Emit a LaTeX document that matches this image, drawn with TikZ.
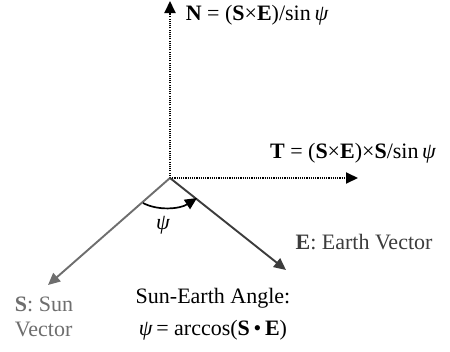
\documentclass[tikz,border=0pt]{standalone}
\usepackage{fontspec}
\setmainfont{Liberation Serif}
\usetikzlibrary{arrows.meta}
\definecolor{sgray}{HTML}{6E6E6E}
\definecolor{egray}{HTML}{3C3C3C}
\begin{document}
\begin{tikzpicture}[x=1pt,y=-1pt,
  lbl/.style={inner sep=0pt, font=\fontsize{22}{26}\selectfont},
  arrtip/.style={-{Triangle[length=12pt,width=11pt]}},
  dotline/.style={arrtip, line width=1.9pt, dash pattern=on 1.1pt off 1.1pt},
  vec/.style={arrtip, line width=1.9pt}]
\useasboundingbox[fill=white] (0,0) rectangle (450,351);
% coordinates
\coordinate (O) at (170,178);
\coordinate (Ntip) at (170,1);
\coordinate (Ttip) at (358,178);
\coordinate (Stip) at (48,285);
\coordinate (Etip) at (286,270);
\coordinate (a1) at (143,203);
\coordinate (a2) at (197,198);
% labels
\node[lbl] (nlbl) at (257,15) {\textbf{N} = (\textbf{S}×\textbf{E})/sin\,{\itshape ψ}};
\node[lbl] (tlbl) at (353,153) {\textbf{T} = (\textbf{S}×\textbf{E})×\textbf{S}/sin\,{\itshape ψ}};
\node[lbl] (psi) at (163,225) {\itshape ψ};
\node[lbl, text=egray] (elbl) at (364,242) {\textbf{E}: Earth Vector};
\node[lbl, align=left, text=sgray, font=\fontsize{22}{25}\selectfont] (slbl) at (44,317) {\textbf{S}: Sun\\Vector};
\node[lbl, align=center, font=\fontsize{22}{32}\selectfont] (ang) at (213,314) {Sun-Earth Angle:\\{\itshape ψ}\,= arccos(\textbf{S}\,•\,\textbf{E})};
% axes
\draw[dotline] (O) -- (Ntip);
\draw[dotline] (O) -- (Ttip);
% vectors
\draw[vec, draw=sgray, fill=sgray] (O) -- (Stip);
\draw[vec, draw=egray, fill=egray] (O) -- (Etip);
% angle arc
\draw[arrtip, line width=1.7pt] (a1) .. controls (158,211) and (180,209) .. (a2);
\end{tikzpicture}
\end{document}
